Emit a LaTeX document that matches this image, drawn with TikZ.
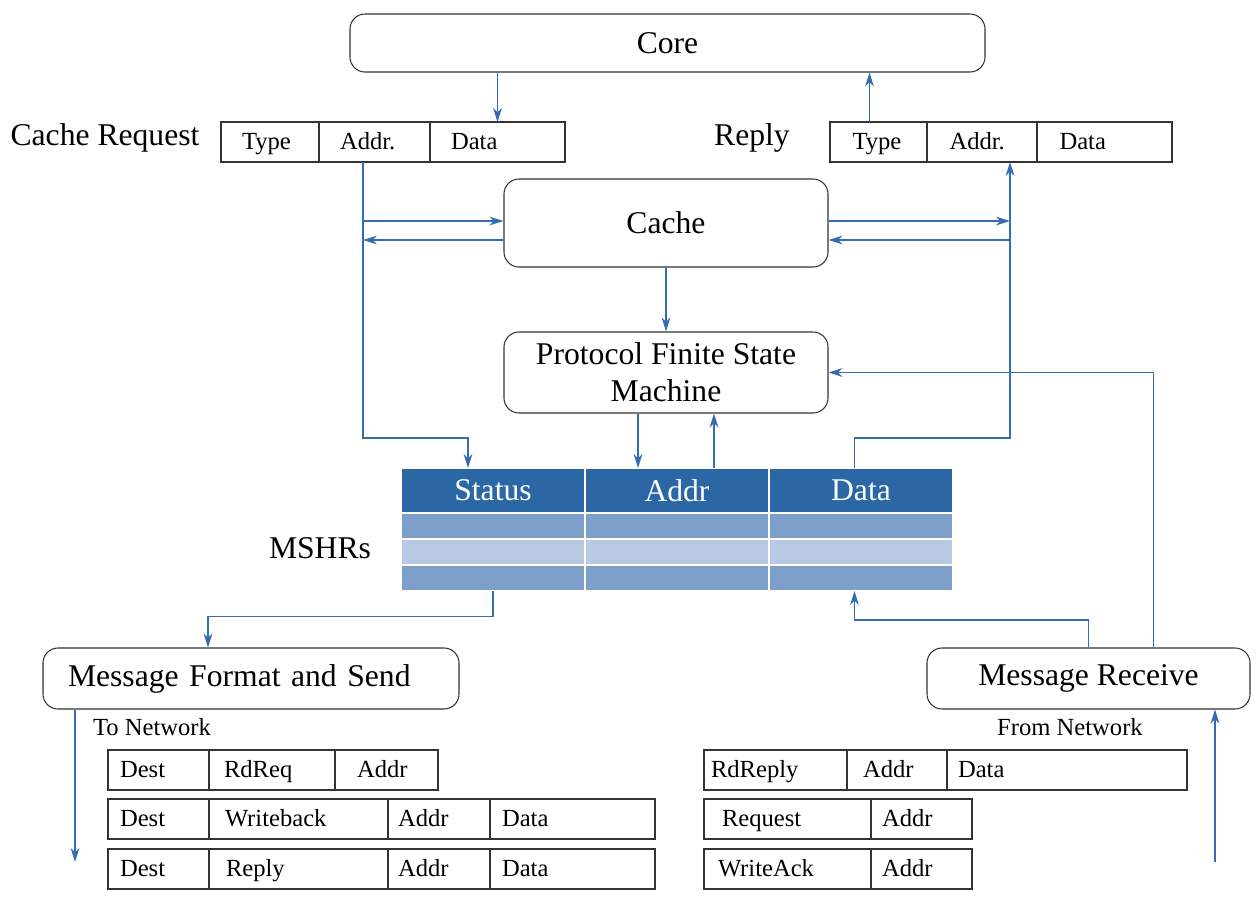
\documentclass[tikz,border=0pt]{standalone}
\usepackage{fontspec}
\setmainfont{Liberation Serif}
\usetikzlibrary{positioning,arrows.meta}

\definecolor{flowblue}{RGB}{52,108,176}
\definecolor{mshrdark}{RGB}{44,103,165}
\definecolor{mshrmid}{RGB}{127,159,203}
\definecolor{mshrlight}{RGB}{184,201,227}
\newcommand\boxfont{\fontsize{18}{21}\selectfont}
\newcommand\fieldfont{\fontsize{14}{16}\selectfont}

\begin{document}
\begin{tikzpicture}[
  unit/.style={rectangle, draw=black!80, line width=0.6pt, rounded corners=0.3cm, align=center, font=\boxfont},
  field/.style={rectangle, draw=black!80, line width=0.6pt, outer sep=0pt, anchor=west, align=left, minimum height=0.8cm, inner ysep=0pt, inner xsep=#1, text height=11pt, text depth=2pt, font=\fieldfont},
  field/.default=0.3cm,
  mshr/.style={rectangle, draw=white, line width=0.8pt, outer sep=0pt, minimum width=3.68cm, inner sep=0pt},
  mhead/.style={mshr, fill=mshrdark, text=white, minimum height=0.9cm, font=\boxfont},
  mrow/.style={mshr, minimum height=0.52cm},
  lbl/.style={font=\boxfont},
  flow/.style={draw=flowblue, line width=0.7pt, -{Stealth[length=8pt, width=5pt, inset=2.5pt]}}
]
\useasboundingbox (0,0) rectangle (25.2,-18.12);

% Units
\node[unit, minimum width=12.7cm, minimum height=1.16cm] (core) at (13.35,-0.86) {Core};
\node[unit, minimum width=6.48cm, minimum height=1.76cm] (cache) at (13.32,-4.46) {Cache};
\node[unit, minimum width=6.48cm, minimum height=1.62cm] (pfsm) at (13.32,-7.45) {Protocol Finite State\\Machine};
\node[unit, minimum width=8.32cm, minimum height=1.22cm, text width=7.32cm, inner xsep=0.5cm, align=left] (msend) at (5.02,-13.57) {Message Format and Send};
\node[unit, minimum width=6.46cm, minimum height=1.22cm] (mrecv) at (21.77,-13.57) {Message Receive};

% Labels
\node[lbl] (creq) at (2.1,-2.76) {Cache Request};
\node[lbl] (rlbl) at (15.04,-2.76) {Reply};
\node[lbl] (mlbl) at (6.4,-10.96) {MSHRs};
\node[font=\fieldfont] (tonetl) at (3.04,-14.54) {To Network};
\node[font=\fieldfont] (fromnetl) at (21.4,-14.54) {From Network};

% Cache request / reply fields
\node[field=0.42cm, text width=1.12cm] (rqtype) at (4.42,-2.84) {Type};
\node[field=0.42cm, text width=1.38cm, right=0pt of rqtype] (rqaddr) {Addr.};
\node[field=0.42cm, text width=1.86cm, right=0pt of rqaddr] (rqdata) {Data};
\node[field=0.45cm, text width=1.04cm] (rptype) at (16.6,-2.84) {Type};
\node[field=0.45cm, text width=1.30cm, right=0pt of rptype] (rpaddr) {Addr.};
\node[field=0.45cm, text width=1.80cm, right=0pt of rpaddr] (rpdata) {Data};

% MSHR table
\node[mhead] (hstat) at (9.86,-9.81) {Status};
\node[mhead, right=0pt of hstat] (haddr) {Addr};
\node[mhead, right=0pt of haddr] (hdata) {Data};
\node[mrow, fill=mshrmid, below=0pt of hstat] (r1stat) {};
\node[mrow, fill=mshrmid, below=0pt of haddr] (r1addr) {};
\node[mrow, fill=mshrmid, below=0pt of hdata] (r1data) {};
\node[mrow, fill=mshrlight, below=0pt of r1stat] (r2stat) {};
\node[mrow, fill=mshrlight, below=0pt of r1addr] (r2addr) {};
\node[mrow, fill=mshrlight, below=0pt of r1data] (r2data) {};
\node[mrow, fill=mshrmid, below=0pt of r2stat] (r3stat) {};
\node[mrow, fill=mshrmid, below=0pt of r2addr] (r3addr) {};
\node[mrow, fill=mshrmid, below=0pt of r2data] (r3data) {};

% Outgoing messages
\node[field=0.24cm, text width=1.54cm] (s1dest) at (2.16,-15.4) {Dest};
\node[field=0.3cm, text width=1.92cm, right=0pt of s1dest] (s1type) {RdReq};
\node[field=0.44cm, text width=1.18cm, right=0pt of s1type] (s1addr) {Addr};
\node[field=0.24cm, text width=1.54cm] (s2dest) at (2.16,-16.38) {Dest};
\node[field=0.32cm, text width=2.94cm, right=0pt of s2dest] (s2type) {Writeback};
\node[field=0.2cm, text width=1.64cm, right=0pt of s2type] (s2addr) {Addr};
\node[field=0.24cm, text width=2.82cm, right=0pt of s2addr] (s2data) {Data};
\node[field=0.24cm, text width=1.54cm] (s3dest) at (2.16,-17.38) {Dest};
\node[field=0.34cm, text width=2.9cm, right=0pt of s3dest] (s3type) {Reply};
\node[field=0.2cm, text width=1.64cm, right=0pt of s3type] (s3addr) {Addr};
\node[field=0.24cm, text width=2.82cm, right=0pt of s3addr] (s3data) {Data};

% Incoming messages
\node[field=0.14cm, text width=2.58cm] (g1type) at (14.08,-15.4) {RdReply};
\node[field=0.32cm, text width=1.36cm, right=0pt of g1type] (g1addr) {Addr};
\node[field=0.22cm, text width=4.36cm, right=0pt of g1addr] (g1data) {Data};
\node[field=0.36cm, text width=2.62cm] (g2type) at (14.08,-16.38) {Request};
\node[field=0.22cm, text width=1.58cm, right=0pt of g2type] (g2addr) {Addr};
\node[field=0.28cm, text width=2.78cm] (g3type) at (14.08,-17.38) {WriteAck};
\node[field=0.22cm, text width=1.58cm, right=0pt of g3type] (g3addr) {Addr};

% Bus points
\coordinate (lb) at ([xshift=-0.23cm]rqaddr.south);
\coordinate (rb) at ([xshift=0.56cm]rpaddr.south);
\coordinate (ctop) at ([yshift=0.04cm]cache.west);
\coordinate (cbot) at ([yshift=-0.34cm]cache.west);
\coordinate (busy) at ([yshift=0.6cm]hstat.north);
\coordinate (sin) at ([xshift=-0.5cm]hstat.north);
\coordinate (dout) at ([xshift=-0.13cm]hdata.north);
\coordinate (pin) at ([xshift=-0.78cm]haddr.north);
\coordinate (pout) at ([xshift=0.74cm]haddr.north);
\coordinate (sendin) at ([xshift=-0.86cm]msend.north);
\coordinate (din) at ([xshift=-0.13cm]r3data.south);
\coordinate (tonet) at (1.5,-17.24);
\coordinate (fromnet) at (24.3,-17.24);

% Core side
\draw[flow] (core.south -| rqdata) -- (rqdata.north);
\draw[flow] ([xshift=-0.18cm]rptype.north) -- ([xshift=-0.18cm]rptype.north |- core.south);

% Cache side
\draw[flow] (lb) |- (sin |- busy) -- (sin);
\draw[flow] (lb |- ctop) -- (ctop);
\draw[flow] (cbot) -- (lb |- cbot);
\draw[flow] (cache.east |- ctop) -- (rb |- ctop);
\draw[flow] (rb |- cbot) -- (cache.east |- cbot);
\draw[flow] (dout) |- (rb |- busy) -- (rb);
\draw[flow] (cache) -- (pfsm);
\draw[flow] (pfsm.south -| pin) -- (pin);
\draw[flow] (pout) -- (pout |- pfsm.south);

% Network side
\draw[flow] (r3stat.south) |- ([yshift=0.62cm]sendin) -- (sendin);
\draw[flow] (msend.south west -| tonet) -- (tonet);
\draw[flow] (mrecv.north) |- ([yshift=-0.58cm]din) -- (din);
\draw[flow] ([xshift=1.3cm]mrecv.north) |- (pfsm.east);
\draw[flow] (fromnet) -- (fromnet |- mrecv.south);
\end{tikzpicture}
\end{document}
